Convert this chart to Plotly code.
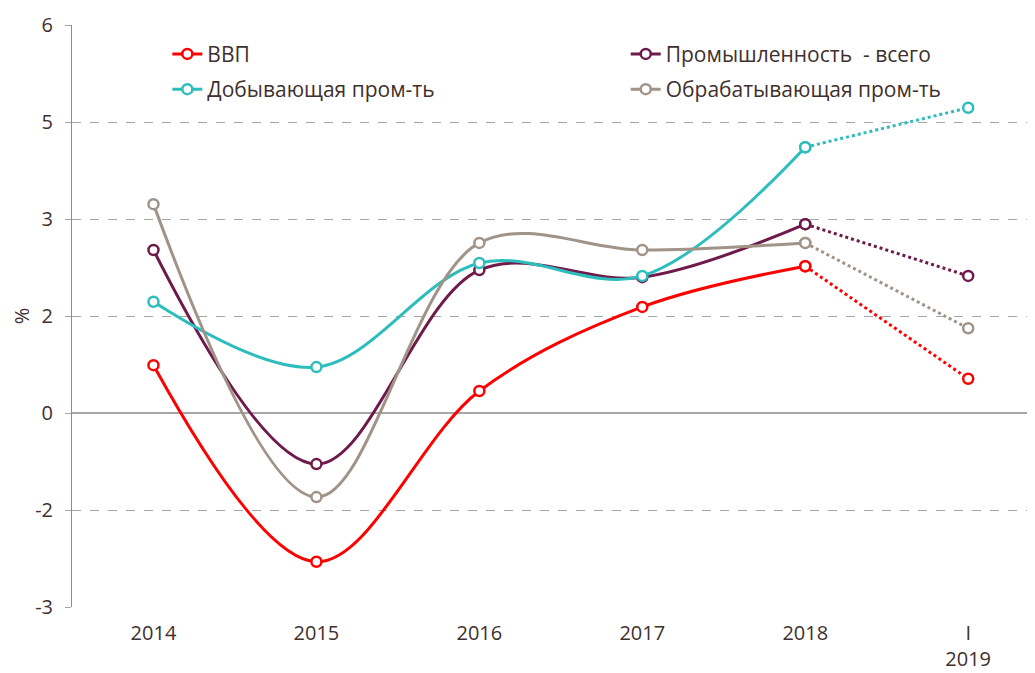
import plotly.graph_objects as go

categories = ["2014", "2015", "2016", "2017", "2018", "I<br>2019"]

gdp = [0.74, -2.30, 0.34, 1.64, 2.27, 0.53]
industry = [2.52, -0.79, 2.21, 2.10, 2.92, 2.12]
mining = [1.72, 0.71, 2.32, 2.12, 4.11, 4.72]
manufacturing = [3.23, -1.30, 2.63, 2.52, 2.63, 1.31]

names = ["ВВП", "Промышленность  - всего", "Добывающая пром-ть", "Обрабатывающая пром-ть"]
colors = ["#FF0000", "#6E1A4A", "#2DBDBD", "#A09388"]
legends = ["legend", "legend2", "legend", "legend2"]

y_ticks = [-3, -1.5, 0, 1.5, 3, 4.5, 6]
y_ticktext = ["-3", "-2", "0", "2", "3", "5", "6"]

text_color = "#40302E"
font_family = "Open Sans, Noto Sans, DejaVu Sans, sans-serif"

fig = go.Figure()

series = [gdp, industry, mining, manufacturing]
for name, vals, col, lg in zip(names, series, colors, legends):
    # solid part 2014-2018
    fig.add_trace(go.Scatter(
        x=categories[:5], y=vals[:5],
        mode="lines+markers",
        line=dict(color=col, width=3, shape="spline", smoothing=1),
        marker=dict(symbol="circle", size=10, color="white",
                    line=dict(color=col, width=2.5)),
        name=name,
        legend=lg,
        legendgroup=name,
        cliponaxis=False,
    ))
    # dotted segment 2018 - I 2019
    fig.add_trace(go.Scatter(
        x=categories[4:], y=vals[4:],
        mode="lines+markers",
        line=dict(color=col, width=3, dash="dot"),
        marker=dict(symbol="circle", size=10, color="white",
                    line=dict(color=col, width=2.5)),
        showlegend=False,
        legendgroup=name,
        cliponaxis=False,
    ))

legend_style = dict(
    orientation="v",
    yanchor="top", xanchor="left",
    font=dict(size=21, color=text_color),
    bgcolor="rgba(0,0,0,0)",
    tracegroupgap=5,
    itemwidth=30,
)

# page has an 8px offset, margins compensate for it
fig.update_layout(
    width=1035, height=673,
    margin=dict(l=64, r=8, t=17, b=74),
    paper_bgcolor="white",
    plot_bgcolor="white",
    font=dict(family=font_family, size=20, color=text_color),
    showlegend=True,
    legend=dict(x=0.099, y=0.985, **legend_style),
    legend2=dict(x=0.575, y=0.985, **legend_style),
    xaxis=dict(
        type="category",
        range=[-0.5, 5.41],
        showgrid=False,
        showline=False,
        ticks="",
        automargin=False,
        ticklabelstandoff=12,
        tickfont=dict(size=20, color=text_color),
    ),
    yaxis=dict(
        range=[-3, 6],
        tickvals=y_ticks,
        ticktext=y_ticktext,
        showgrid=True,
        gridcolor="#A6A6A6",
        griddash="dash",
        gridwidth=1,
        zeroline=True,
        zerolinecolor="#A6A6A6",
        zerolinewidth=1.5,
        showline=True,
        linecolor="#8C8C8C",
        linewidth=1,
        ticks="outside",
        ticklen=6,
        tickcolor="#A6A6A6",
        automargin=False,
        ticklabelstandoff=8,
        tickfont=dict(size=20, color=text_color),
        title=dict(text="%", font=dict(size=20, color=text_color), standoff=14),
    ),
)

fig.write_html("out.html")
